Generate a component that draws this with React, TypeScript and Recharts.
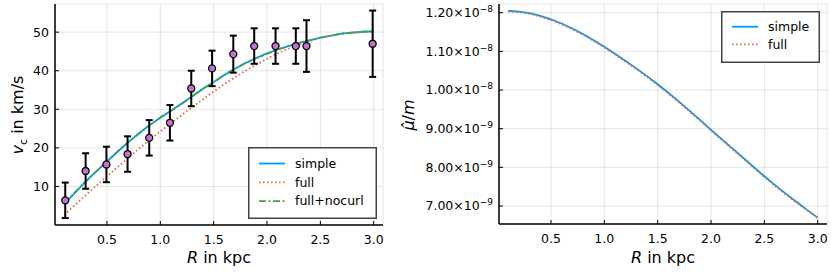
import React from 'react';
import { ComposedChart, Line, Scatter, ErrorBar, XAxis, YAxis, CartesianGrid } from 'recharts';

// radius grid of the model curves, kpc
const radius = [0.1, 0.2, 0.3, 0.4, 0.5, 0.6, 0.7, 0.8, 0.9, 1.0, 1.1, 1.2, 1.3, 1.4, 1.5, 1.6, 1.7, 1.8, 1.9, 2.0, 2.1, 2.2, 2.3, 2.4, 2.5, 2.6, 2.7, 2.8, 2.9, 3.0];

// rotation curves, km/s
const vSimple = [5.5, 8.3, 11.3, 13.9, 16.5, 19.0, 21.5, 23.8, 25.9, 27.8, 29.6, 31.5, 33.4, 35.3, 37.1, 38.9, 40.5, 42.0, 43.3, 44.5, 45.5, 46.4, 47.2, 47.9, 48.6, 49.1, 49.6, 49.9, 50.1, 50.2];
const vFull = [2.6, 5.2, 7.7, 10.2, 12.6, 15.0, 17.4, 19.8, 22.1, 24.3, 26.4, 28.5, 30.6, 32.6, 34.6, 36.5, 38.3, 40.0, 41.6, 43.1, 44.5, 45.7, 46.8, 47.7, 48.5, 49.1, 49.6, 49.9, 50.0, 50.1];
const vNocurl = [5.6, 8.5, 11.2, 13.9, 16.4, 19.1, 21.5, 23.7, 25.9, 27.9, 29.6, 31.4, 33.4, 35.3, 37.0, 38.9, 40.6, 42.0, 43.3, 44.4, 45.5, 46.4, 47.2, 47.9, 48.6, 49.1, 49.6, 49.9, 50.1, 50.3];

// mu-hat / m in units of 1e-9
const muSimple = [12.05, 12.03, 11.99, 11.92, 11.83, 11.72, 11.59, 11.45, 11.29, 11.12, 10.94, 10.75, 10.56, 10.36, 10.15, 9.93, 9.70, 9.46, 9.22, 8.97, 8.73, 8.49, 8.25, 8.01, 7.77, 7.54, 7.32, 7.11, 6.90, 6.70];
const muFull = [12.03, 12.01, 11.97, 11.90, 11.81, 11.70, 11.57, 11.43, 11.27, 11.10, 10.92, 10.73, 10.54, 10.34, 10.13, 9.91, 9.68, 9.44, 9.20, 8.95, 8.71, 8.47, 8.23, 7.99, 7.75, 7.52, 7.30, 7.09, 6.89, 6.69];

// observed points
const obsR = [0.109, 0.30, 0.495, 0.693, 0.896, 1.09, 1.29, 1.485, 1.684, 1.88, 2.08, 2.27, 2.37, 2.99];
const obsV = [6.4, 14.0, 15.7, 18.4, 22.6, 26.5, 35.4, 40.6, 44.3, 46.4, 46.4, 46.4, 46.4, 47.0];
const obsErr = [4.6, 4.6, 4.6, 4.6, 4.6, 4.6, 4.6, 4.6, 4.8, 4.6, 4.6, 4.6, 6.7, 8.6];

const xTicks = [0.5, 1.0, 1.5, 2.0, 2.5, 3.0];
const vTicks = [10, 20, 30, 40, 50];
const muTicks = [7, 8, 9, 10, 11, 12];

const BLUE = '#009af9';
const ORANGE = '#e26f46';
const GREEN = '#3da44d';
const PURPLE = '#c271d2';
const FONT = '"DejaVu Sans", sans-serif';

const curveRows = radius.map((R, i) => ({ R, simple: vSimple[i], full: vFull[i], nocurl: vNocurl[i] }));
const muRows = radius.map((R, i) => ({ R, simple: muSimple[i], full: muFull[i] }));
const obsRows = obsR.map((R, i) => ({ R, v: obsV[i], err: obsErr[i] }));

const tickStyle = { fill: '#000', fontSize: 12.5, fontFamily: FONT };

type LegendItem = { name: string; color: string; dash?: string };

function LegendBox({ items, width, height, rowGap, firstRow }: { items: LegendItem[]; width: number; height: number; rowGap: number; firstRow: number }) {
  return (
    <svg width={width} height={height} style={{ display: 'block' }}>
      <rect x={0.75} y={0.75} width={width - 1.5} height={height - 1.5} fill="#fff" stroke="#444" strokeWidth={1.5} />
      {items.map((it, i) => {
        const cy = firstRow + i * rowGap;
        return (
          <g key={it.name}>
            <line x1={11} x2={37} y1={cy} y2={cy} stroke={it.color} strokeWidth={1.8} strokeDasharray={it.dash} />
            <text x={47} y={cy} dy="0.35em" fontSize={12.5} fontFamily={FONT} fill="#000">{it.name}</text>
          </g>
        );
      })}
    </svg>
  );
}

function MuTick(props: any) {
  const { x, y, payload } = props;
  const v = payload.value as number;
  const mant = v >= 10 ? (v / 10).toFixed(2) : v.toFixed(2);
  const exp = v >= 10 ? '\u22128' : '\u22129';
  return (
    <text x={x} y={y} dy="0.35em" textAnchor="end" fontSize={12.5} fontFamily={FONT} fill="#000">
      {mant}×10<tspan dy={-5} fontSize={9}>{exp}</tspan>
    </text>
  );
}

const vLabel = () => (
  <text transform="rotate(-90 17 115)" x={17} y={115} textAnchor="middle" dy="0.35em" fontSize={16} fontFamily={FONT} fill="#000">
    <tspan fontStyle="italic">v</tspan>
    <tspan fontSize={11} dy={4}>c</tspan>
    <tspan dy={-4}> in km/s</tspan>
  </text>
);

const muLabel = () => (
  <text transform="rotate(-90 8 115)" x={8} y={115} textAnchor="middle" dy="0.35em" fontSize={16} fontFamily={FONT} fill="#000">
    <tspan fontStyle="italic">{'\u03bc\u0302'}</tspan>
    <tspan>/</tspan>
    <tspan fontStyle="italic">m</tspan>
  </text>
);

const rLabel = (cx: number) => () => (
  <text x={cx} y={257} textAnchor="middle" dy="0.35em" fontSize={16} fontFamily={FONT} fill="#000">
    <tspan fontStyle="italic">R</tspan>
    <tspan> in kpc</tspan>
  </text>
);

const dot = (p: any) => <circle cx={p.cx} cy={p.cy} r={3.5} fill={PURPLE} stroke="#000" strokeWidth={1.3} />;

export default function App() {
  return (
    <div style={{ position: 'absolute', left: 0, top: 0, width: 831, height: 277, background: '#fff', fontFamily: FONT }}>
      <div style={{ position: 'absolute', left: 0, top: 0 }}>
        <ComposedChart width={400} height={277} data={curveRows} margin={{ top: 4, right: 17, left: 0, bottom: 0 }}>
          <CartesianGrid stroke="#000" strokeOpacity={0.1} strokeWidth={1} />
          <XAxis dataKey="R" type="number" domain={[0.013, 3.087]} allowDataOverflow ticks={xTicks}
            tickFormatter={(v: number) => v.toFixed(1)} height={52} tick={tickStyle}
            tickSize={-4} tickMargin={14} tickLine={{ stroke: '#000' }} axisLine={{ stroke: '#000', strokeWidth: 1.5 }}
            label={rLabel(219)} />
          <YAxis dataKey="v" type="number" domain={[0, 57.3]} allowDataOverflow ticks={vTicks} width={55} tick={tickStyle}
            tickSize={-4} tickMargin={10} tickLine={{ stroke: '#000' }} axisLine={{ stroke: '#000', strokeWidth: 1.5 }}
            label={vLabel} />
          <Line dataKey="simple" stroke={BLUE} strokeWidth={1.8} dot={false} isAnimationActive={false} type="linear" />
          <Line dataKey="full" stroke={ORANGE} strokeWidth={1.8} strokeDasharray="1.6 2.4" dot={false} isAnimationActive={false} type="linear" />
          <Line dataKey="nocurl" stroke={GREEN} strokeWidth={1.8} strokeDasharray="7 2.5 2 2.5" dot={false} isAnimationActive={false} type="linear" />
          <Scatter data={obsRows} dataKey="v" shape={dot} isAnimationActive={false}>
            <ErrorBar dataKey="err" direction="y" width={3.5} stroke="#000" strokeWidth={2} />
          </Scatter>
        </ComposedChart>
        <div style={{ position: 'absolute', left: 248, top: 147 }}>
          <LegendBox width={129} height={72} rowGap={18.8} firstRow={16.5}
            items={[
              { name: 'simple', color: BLUE },
              { name: 'full', color: ORANGE, dash: '1.6 2.4' },
              { name: 'full+nocurl', color: GREEN, dash: '7 2.5 2 2.5' },
            ]} />
        </div>
      </div>
      <div style={{ position: 'absolute', left: 400, top: 0 }}>
        <ComposedChart width={431} height={277} data={muRows} margin={{ top: 4, right: 4, left: 0, bottom: 0 }}>
          <CartesianGrid stroke="#000" strokeOpacity={0.1} strokeWidth={1} />
          <XAxis dataKey="R" type="number" domain={[0.013, 3.087]} allowDataOverflow ticks={xTicks}
            tickFormatter={(v: number) => v.toFixed(1)} height={53} tick={tickStyle}
            tickSize={-4} tickMargin={14} tickLine={{ stroke: '#000' }} axisLine={{ stroke: '#000', strokeWidth: 1.5 }}
            label={rLabel(263)} />
          <YAxis type="number" domain={[6.535, 12.225]} allowDataOverflow ticks={muTicks} width={99} tick={<MuTick />}
            tickSize={-4} tickMargin={10} tickLine={{ stroke: '#000' }} axisLine={{ stroke: '#000', strokeWidth: 1.5 }}
            label={muLabel} />
          <Line dataKey="simple" stroke={BLUE} strokeWidth={1.8} dot={false} isAnimationActive={false} type="linear" />
          <Line dataKey="full" stroke={ORANGE} strokeWidth={1.8} strokeDasharray="1.6 2.4" dot={false} isAnimationActive={false} type="linear" />
        </ComposedChart>
        <div style={{ position: 'absolute', left: 321, top: 11 }}>
          <LegendBox width={99} height={52} rowGap={17.6} firstRow={15.7}
            items={[
              { name: 'simple', color: BLUE },
              { name: 'full', color: ORANGE, dash: '1.6 2.4' },
            ]} />
        </div>
      </div>
    </div>
  );
}
